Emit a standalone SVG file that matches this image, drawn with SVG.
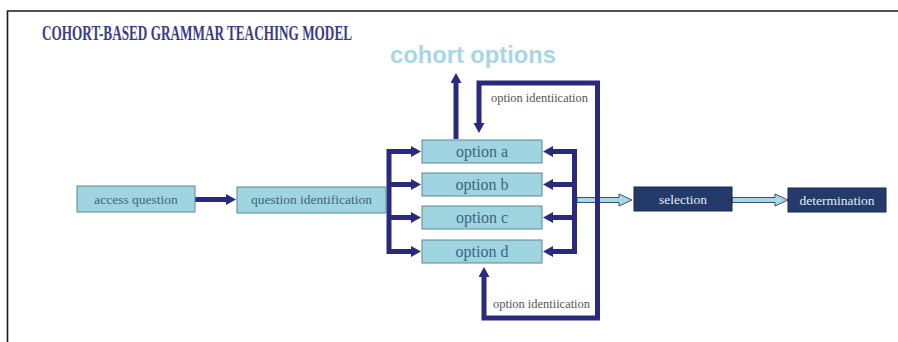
<svg xmlns="http://www.w3.org/2000/svg" width="898" height="342" viewBox="0 0 898 342">
  <style>
    .frame { stroke: #1a1a1a; stroke-width: 1.6; fill: none; }
    .title { font-family: "Liberation Serif", "Times New Roman", serif; font-weight: bold; font-size: 20px; fill: #3b3b86; }
    .cohort { font-family: "Liberation Sans", Arial, sans-serif; font-weight: bold; font-size: 23.5px; fill: #a6d7e3; }
    .box { fill: #9fd5e1; stroke: #5a8690; stroke-width: 1; }
    .dark { fill: #233a6b; stroke: #18284e; stroke-width: 1; }
    .lbl { font-family: "Liberation Serif", "Times New Roman", serif; font-size: 13.5px; fill: #3e6480; text-anchor: middle; }
    .opt { font-family: "Liberation Serif", "Times New Roman", serif; font-size: 16px; fill: #3e6480; text-anchor: middle; }
    .lblw { font-family: "Liberation Serif", "Times New Roman", serif; font-size: 13.5px; fill: #e4ecf4; text-anchor: middle; }
    .note { font-family: "Liberation Serif", "Times New Roman", serif; font-size: 12.5px; fill: #555555; }
    .bar { stroke: #29297d; stroke-width: 5; fill: none; }
    .bar-a { stroke: #29297d; stroke-width: 5; fill: none; marker-end: url(#head); }
    .pale { fill: #a6d8e6; stroke: #2c3b5c; stroke-width: 0.9; }
  </style>
  <defs>
    <marker id="head" viewBox="0 0 10 11" markerWidth="10" markerHeight="11" refX="0" refY="5.5" orient="auto" markerUnits="userSpaceOnUse">
      <path d="M0,0 L10,5.5 L0,11 z" fill="#29297d"/>
    </marker>
  </defs>

  <rect width="898" height="342" fill="#ffffff"/>
  <!-- page frame -->
  <path class="frame" d="M7.5,342 V11 H898"/>

  <text class="title" x="42" y="40" textLength="310" lengthAdjust="spacingAndGlyphs">COHORT-BASED GRAMMAR TEACHING MODEL</text>
  <text class="cohort" x="390" y="63" textLength="166" lengthAdjust="spacingAndGlyphs">cohort options</text>

  <!-- connectors -->
  <g id="connectors">
    <path class="bar-a" d="M195,199.5 H226"/>
    <!-- fan-out to the options -->
    <path class="bar" d="M389,149 V254"/>
    <path class="bar-a" d="M389,151.5 H411"/>
    <path class="bar-a" d="M389,184.5 H411"/>
    <path class="bar-a" d="M389,217.5 H411"/>
    <path class="bar-a" d="M389,251.5 H411"/>
    <!-- feedback into the options -->
    <path class="bar" d="M574.5,149 V254"/>
    <path class="bar-a" d="M574.5,151.5 H553"/>
    <path class="bar-a" d="M574.5,184.5 H553"/>
    <path class="bar-a" d="M574.5,217.5 H553"/>
    <path class="bar-a" d="M574.5,251.5 H553"/>
    <!-- up to cohort options -->
    <path class="bar-a" d="M456,139 V83"/>
    <!-- option identification loops -->
    <path class="pale" d="M577,197.5 H619 V194 L632,200 L619,206 V202.5 H577 z"/>
    <path class="bar-a" d="M597.5,210 V83 H479 V123"/>
    <path class="bar-a" d="M597.5,190 V318 H484 V277"/>
    <path class="pale" d="M732,197.5 H775 V194 L788,200 L775,206 V202.5 H732 z"/>
    <text class="note" x="491" y="102" textLength="97" lengthAdjust="spacingAndGlyphs">option identiication</text>
    <text class="note" x="493" y="308" textLength="97" lengthAdjust="spacingAndGlyphs">option identiication</text>
  </g>

  <g id="access-question">
    <rect class="box" x="77" y="186" width="118" height="26"/>
    <text class="lbl" x="136" y="203.5">access question</text>
  </g>
  <g id="question-identification">
    <rect class="box" x="237" y="187" width="149" height="26"/>
    <text class="lbl" x="311.5" y="204">question identification</text>
  </g>
  <g id="option-a">
    <rect class="box" x="422" y="140" width="120" height="23"/>
    <text class="opt" x="482" y="157">option a</text>
  </g>
  <g id="option-b">
    <rect class="box" x="422" y="173" width="120" height="23"/>
    <text class="opt" x="482" y="190">option b</text>
  </g>
  <g id="option-c">
    <rect class="box" x="422" y="206" width="120" height="23"/>
    <text class="opt" x="482" y="223">option c</text>
  </g>
  <g id="option-d">
    <rect class="box" x="422" y="240" width="120" height="23"/>
    <text class="opt" x="482" y="257">option d</text>
  </g>
  <g id="selection">
    <rect class="dark" x="634" y="187" width="98" height="24"/>
    <text class="lblw" x="683" y="204">selection</text>
  </g>
  <g id="determination">
    <rect class="dark" x="788" y="188" width="98" height="24"/>
    <text class="lblw" x="837" y="204.5">determination</text>
  </g>
</svg>
